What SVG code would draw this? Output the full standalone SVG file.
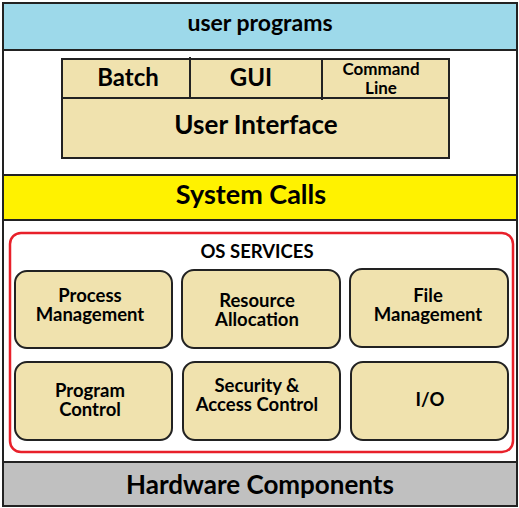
<svg xmlns="http://www.w3.org/2000/svg" width="519" height="508" viewBox="0 0 519 508">
<style>
text{font-family:Lato,"Liberation Sans",sans-serif;font-weight:bold;fill:#000;text-anchor:middle}
.band{stroke:#222;stroke-width:2}
.tan{fill:#F0E2AE;stroke:#222;stroke-width:2}
.svc{fill:#F0E2AE;stroke:#222;stroke-width:2}
.f24{font-size:24px}.f19{font-size:18.5px}.f18{font-size:17px}.f26{font-size:26px}
</style>
<rect x="3" y="3" width="514" height="503" fill="#fff" stroke="#222" stroke-width="2"/>
<g id="user-programs"><rect class="band" x="3" y="3" width="514" height="47" fill="#9DD9EA"/><text x="260" y="31" style="font-size:23px">user programs</text></g>
<g id="user-interface">
<rect class="tan" x="62" y="59" width="387" height="99"/>
<line x1="62" y1="98" x2="450" y2="98" stroke="#222" stroke-width="2"/>
<line x1="190" y1="57" x2="190" y2="98" stroke="#222" stroke-width="2"/>
<line x1="322" y1="59" x2="322" y2="100" stroke="#222" stroke-width="2"/>
<text class="f24" x="128" y="86">Batch</text>
<text class="f24" x="251" y="86">GUI</text>
<text class="f18" x="381" y="75">Command</text>
<text class="f18" x="381" y="94">Line</text>
<text class="f26" x="256" y="134">User Interface</text>
</g>
<g id="system-calls"><rect class="band" x="3" y="175" width="514" height="45" fill="#FFF200"/><text x="251" y="204" style="font-size:27px">System Calls</text></g>
<g id="os-services">
<rect x="10" y="233" width="503" height="219" rx="11" fill="none" stroke="#E8202A" stroke-width="2.5"/>
<text class="f19" x="257" y="258">OS SERVICES</text>
</g>
<g id="process-management"><rect class="svc" x="15" y="271" width="157" height="77" rx="12"/><text class="f19" x="90" y="302">Process</text><text class="f19" x="90" y="321">Management</text></g>
<g id="resource-allocation"><rect class="svc" x="182" y="270" width="158" height="78" rx="12"/><text class="f19" x="257" y="307">Resource</text><text class="f19" x="257" y="326">Allocation</text></g>
<g id="file-management"><rect class="svc" x="350" y="269" width="158" height="78" rx="12"/><text class="f19" x="428" y="302">File</text><text class="f19" x="428" y="321">Management</text></g>
<g id="program-control"><rect class="svc" x="15" y="362" width="157" height="78" rx="12"/><text class="f19" x="90" y="397">Program</text><text class="f19" x="90" y="416">Control</text></g>
<g id="security"><rect class="svc" x="183" y="362" width="157" height="78" rx="12"/><text class="f19" x="257" y="392">Security &amp;</text><text class="f19" x="257" y="411">Access Control</text></g>
<g id="io"><rect class="svc" x="351" y="362" width="157" height="78" rx="12"/><text class="f19" x="430" y="406">I/O</text></g>
<g id="hardware"><rect class="band" x="3" y="462" width="514" height="44" fill="#C0C0C0"/><text class="f26" x="260" y="494">Hardware Components</text></g>
</svg>
